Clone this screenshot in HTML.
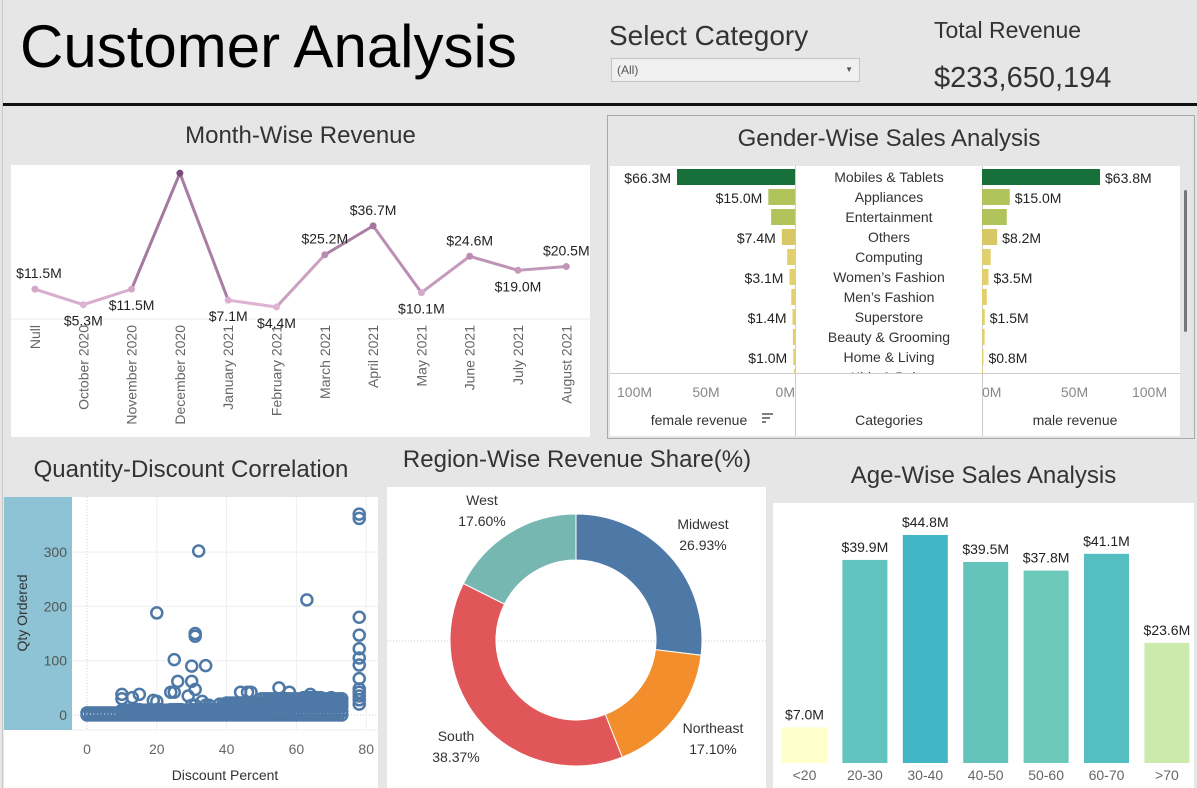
<!DOCTYPE html>
<html><head><meta charset="utf-8">
<style>
body{margin:0;width:1197px;height:788px;background:#e6e6e6;font-family:"Liberation Sans",sans-serif;position:relative;overflow:hidden}
.abs{position:absolute}
svg text{font-family:"Liberation Sans",sans-serif}
</style></head>
<body>
<div class="abs" style="left:2px;top:0;width:1px;height:788px;background:#c8c8c8"></div>
<div class="abs" style="left:20px;top:12px;font-size:60px;color:#000">Customer Analysis</div>
<div class="abs" style="left:609px;top:20px;font-size:28px;color:#333">Select Category</div>
<div class="abs" style="left:611px;top:58px;width:247px;height:22px;background:#f0f0f0;border:1px solid #c4c4c4;font-size:12px;color:#555;line-height:22px;text-indent:5px">(All)<span style="position:absolute;right:6px;top:0;font-size:8px">▼</span></div>
<div class="abs" style="left:934px;top:17px;font-size:23px;color:#333">Total Revenue</div>
<div class="abs" style="left:934px;top:62px;font-size:29px;color:#333">$233,650,194</div>
<div class="abs" style="left:3px;top:103px;width:1194px;height:3px;background:#111"></div>

<div class="abs" style="left:11px;top:122px;width:579px;text-align:center;font-size:24px;color:#333">Month-Wise Revenue</div>
<svg class="abs" id="month" style="left:11px;top:165px" width="579" height="272"></svg>

<div class="abs" style="left:607px;top:115px;width:586px;height:322px;border:1px solid #a8a8a8;background:#e6e6e6"></div>
<div class="abs" style="left:607px;top:125px;width:564px;text-align:center;font-size:24px;color:#333">Gender-Wise Sales Analysis</div>
<svg class="abs" id="gender" style="left:609px;top:166px" width="584" height="271"></svg>

<div class="abs" style="left:4px;top:456px;width:374px;text-align:center;font-size:24px;color:#333">Quantity-Discount Correlation</div>
<svg class="abs" id="scatter" style="left:4px;top:497px" width="374" height="291"></svg>

<div class="abs" style="left:382px;top:446px;width:390px;text-align:center;font-size:24px;color:#333">Region-Wise Revenue Share(%)</div>
<svg class="abs" id="donut" style="left:387px;top:487px" width="379" height="301"></svg>

<div class="abs" style="left:773px;top:462px;width:421px;text-align:center;font-size:24px;color:#333">Age-Wise Sales Analysis</div>
<svg class="abs" id="age" style="left:773px;top:503px" width="421" height="285"></svg>

<script>
const NS="http://www.w3.org/2000/svg";
function mk(p,t,a,txt){const e=document.createElementNS(NS,t);for(const k in a)e.setAttribute(k,a[k]);if(txt!==undefined)e.textContent=txt;p.appendChild(e);return e;}

// ---------- Month chart ----------
const months=["Null","October 2020","November 2020","December 2020","January 2021","February 2021","March 2021","April 2021","May 2021","June 2021","July 2021","August 2021"];
const monthRevenue=[11.5,5.3,11.5,57.7,7.1,4.4,25.2,36.7,10.1,24.6,19.0,20.5];
const monthLabelAbove=[true,false,false,true,false,false,true,true,false,true,false,true];
{
const s=document.getElementById('month');
mk(s,'rect',{width:579,height:272,fill:'#fff'});
const mx=i=>24+i*48.3, my=v=>153-v*2.51;
mk(s,'line',{x1:0,x2:579,y1:154,y2:154,stroke:'#eee'});
function col(v){const t=Math.min(1,v/57.7);const a=[232,190,220],b=[120,75,120];return `rgb(${a.map((c,j)=>Math.round(c+(b[j]-c)*t)).join(',')})`;}
for(let i=0;i<months.length-1;i++){
 const l=mk(s,'line',{x1:mx(i),y1:my(monthRevenue[i]),x2:mx(i+1),y2:my(monthRevenue[i+1]),stroke:col((monthRevenue[i]+monthRevenue[i+1])/2),'stroke-width':3});
 
 
}
months.forEach((m,i)=>{
 const v=monthRevenue[i];
 const c=mk(s,'circle',{cx:mx(i),cy:my(v),r:3.5,fill:col(v)});
 
 
 const y=monthLabelAbove[i]?my(v)-11:my(v)+21;
 const t=mk(s,'text',{x:mx(i)+(i==0?4:0),y:y,'font-size':14,'text-anchor':'middle',fill:'#222'},'$'+v.toFixed(1)+'M');
 
 
 const xl=mk(s,'text',{transform:`translate(${mx(i)+5},160) rotate(-90)`,'font-size':14,'text-anchor':'end',fill:'#666'},m);
 
 
});
}

// ---------- Gender chart ----------
const categories=["Mobiles & Tablets","Appliances","Entertainment","Others","Computing","Women's Fashion","Men's Fashion","Superstore","Beauty & Grooming","Home & Living","Kids & Baby"];
const femaleRevenue=[66.3,15.0,13.4,7.4,4.4,3.1,2.1,1.4,1.2,1.0,0.6];
const maleRevenue=[63.8,15.0,13.4,8.2,4.7,3.5,2.6,1.5,1.4,0.8,0.5];
const genderAxisTicks=[0,50,100];
{
const s=document.getElementById('gender');
mk(s,'rect',{x:1,y:0,width:570,height:270,fill:'#fff'});
const f0=186, fs=1.78, m0=373, ms=1.85;
mk(s,'line',{x1:186.5,x2:186.5,y1:0,y2:270,stroke:'#ccc'});
mk(s,'line',{x1:373.5,x2:373.5,y1:0,y2:270,stroke:'#ccc'});
mk(s,'line',{x1:1,x2:571,y1:207.5,y2:207.5,stroke:'#ccc'});
function gc(v){return v>50?'#17703a':v>10?'#b1c45c':v>5?'#d8c865':'#e2d06e';}
const g=mk(s,'g',{'clip-path':'url(#gclip)'});
const cp=mk(s,'clipPath',{id:'gclip'});mk(cp,'rect',{x:0,y:0,width:572,height:207});
categories.forEach((c,i)=>{
 const yc=11+i*20;
 const fw=femaleRevenue[i]*fs, mw=maleRevenue[i]*ms;
 const b1=mk(g,'rect',{x:f0-fw,y:yc-8,width:fw,height:16,fill:gc(femaleRevenue[i])});
 
 
 const b2=mk(g,'rect',{x:m0,y:yc-8,width:mw,height:16,fill:gc(maleRevenue[i])});
 
 
 const t=mk(g,'text',{x:280,y:yc+5,'font-size':14,'text-anchor':'middle',fill:'#333'},c.replace("'","’"));
 
 
 if(i%2==1||i==0){
  const a=mk(g,'text',{x:f0-fw-6,y:yc+6,'font-size':14,'text-anchor':'end',fill:'#222'},'$'+femaleRevenue[i].toFixed(1)+'M');
  
  
  const b=mk(g,'text',{x:m0+mw+5,y:yc+6,'font-size':14,fill:'#222'},'$'+maleRevenue[i].toFixed(1)+'M');
  
  
 }
});
genderAxisTicks.forEach(v=>{
 const fx=f0-v*fs, mxx=m0+v*ms;
 const a=mk(s,'text',{x:fx,y:231,'font-size':14,fill:'#888','text-anchor':v==0?'end':(v==100?'start':'middle')},v+'M');
 
 
 const b=mk(s,'text',{x:mxx,y:231,'font-size':14,fill:'#888','text-anchor':v==0?'start':(v==100?'end':'middle')},v+'M');
 
 
});
const h1=mk(s,'text',{x:90,y:259,'font-size':14,'text-anchor':'middle',fill:'#333'},'female revenue');
mk(s,'path',{d:'M153 248h11M153 252h8M153 256h4',stroke:'#555','stroke-width':1.5});
const h2=mk(s,'text',{x:280,y:259,'font-size':14,'text-anchor':'middle',fill:'#333'},'Categories');
const h3=mk(s,'text',{x:466,y:259,'font-size':14,'text-anchor':'middle',fill:'#333'},'male revenue');
mk(s,'rect',{x:572,y:0,width:12,height:271,fill:'#e6e6e6'});
const sb=mk(s,'rect',{x:575,y:24,width:3,height:142,rx:1.5,fill:'#777'});
}

// ---------- Scatter ----------
const outlierDiscount=[10,10,13,15,19,20,20,24,25,25,26,30,29,30,31,31,32,31,34,33,44,46,47,55,58,63,64,70,78,78,78,78,78,78,78,78,78,78,78,78,78];
const outlierQty=[38,30,32,38,27,188,25,42,102,42,62,62,35,90,150,145,302,47,91,25,42,42,42,50,42,212,38,32,370,362,180,147,122,105,92,67,48,42,35,28,20];
const bandDiscount=[0,2,4,6,8,10,12,14,16,18,20,22,24,26,28,30,32,34,36,38,40,42,44,46,48,50,52,54,56,58,60,62,64,66,68,70,72,
 0,2,4,6,8,10,12,14,16,18,20,22,24,26,28,30,32,34,36,38,40,42,44,46,48,50,52,54,56,58,60,62,64,66,68,70,72,
 10,12,14,16,18,20,22,24,26,28,30,32,34,36,38,40,42,44,46,48,50,52,54,56,58,60,62,64,66,68,70,72,
 30,34,38,40,42,44,46,48,50,52,54,56,58,60,62,64,66,68,70,72,
 40,42,44,46,48,50,52,54,56,58,60,62,64,66,68,70,72,
 50,52,54,56,58,60,62,64,66,68,70,72];
const bandQty=[0,0,0,0,0,0,0,0,0,0,0,0,0,0,0,0,0,0,0,0,0,0,0,0,0,0,0,0,0,0,0,0,0,0,0,0,0,
 4,4,4,4,4,5,5,5,5,5,5,5,5,5,5,5,5,5,5,6,6,6,6,6,6,6,6,6,6,6,7,7,7,7,7,7,7,
 9,9,10,9,9,10,9,10,10,9,10,10,10,10,12,12,12,12,14,14,14,14,15,15,15,16,16,16,16,16,16,16,
 18,18,20,22,22,22,22,22,22,24,24,24,24,25,25,25,26,26,25,24,
 18,18,18,18,18,18,19,19,19,19,20,20,20,20,20,20,20,
 30,30,30,30,30,30,32,32,32,30,30,30];
const scatterXTicks=[0,20,40,60,80];
const scatterYTicks=[0,100,200,300];
{
const s=document.getElementById('scatter');
mk(s,'rect',{width:374,height:291,fill:'#fff'});
mk(s,'rect',{x:0,y:0,width:68,height:233,fill:'#8dc3d4'});
const sx=v=>83+v*3.49, sy=v=>218-v*0.543;
scatterYTicks.forEach(v=>{
 mk(s,'line',{x1:68,x2:374,y1:sy(v),y2:sy(v),stroke:v==0?'#ccc':'#eee','stroke-dasharray':v==0?'1,2':''});
 const t=mk(s,'text',{x:63,y:sy(v)+5,'font-size':14,'text-anchor':'end',fill:'#555'},v);
 
});
mk(s,'line',{x1:68,x2:374,y1:233,y2:233,stroke:'#eee'});
scatterXTicks.forEach(v=>{
 mk(s,'line',{x1:sx(v),x2:sx(v),y1:0,y2:233,stroke:v==0?'#ccc':'#eee','stroke-dasharray':v==0?'1,2':''});
 const t=mk(s,'text',{x:sx(v),y:257,'font-size':14,'text-anchor':'middle',fill:'#666'},v);
 
});
const yt=mk(s,'text',{transform:'translate(23,116) rotate(-90)','font-size':14,'text-anchor':'middle',fill:'#333'},'Qty Ordered');

const xt=mk(s,'text',{x:221,y:283,'font-size':14,'text-anchor':'middle',fill:'#333'},'Discount Percent');

function pt(d,q){const c=mk(s,'circle',{cx:sx(d),cy:sy(q),r:5.5,fill:'none',stroke:'#4e79a7','stroke-width':2.5});
 
 }
bandDiscount.forEach((d,i)=>{pt(d,bandQty[i]);pt(d+1,bandQty[i]);});
outlierDiscount.forEach((d,i)=>pt(d,outlierQty[i]));
}

// ---------- Donut ----------
const regions=["Midwest","Northeast","South","West"];
const regionShare=[26.93,17.10,38.37,17.60];
const regionColors=["#4e79a7","#f28e2b","#e15759","#76b7b2"];
{
const s=document.getElementById('donut');
mk(s,'rect',{width:379,height:301,fill:'#fff'});
mk(s,'line',{x1:0,x2:379,y1:154,y2:154,stroke:'#ccc','stroke-dasharray':'1,2'});
const cx=189,cy=153,R=126,r=80;
const labelPos=[[316,42],[326,246],[69,254],[95,18]];
const tot=regionShare.reduce((a,b)=>a+b,0);let a0=0;
regionShare.forEach((v,i)=>{
 const a1=a0+v/tot*2*Math.PI;
 const p=(a,rr)=>[cx+rr*Math.sin(a),cy-rr*Math.cos(a)];
 const [x1,y1]=p(a0,R),[x2,y2]=p(a1,R),[x3,y3]=p(a1,r),[x4,y4]=p(a0,r);
 const lg=(a1-a0)>Math.PI?1:0;
 const e=mk(s,'path',{d:`M${x1} ${y1}A${R} ${R} 0 ${lg} 1 ${x2} ${y2}L${x3} ${y3}A${r} ${r} 0 ${lg} 0 ${x4} ${y4}Z`,fill:regionColors[i],stroke:'#fff','stroke-width':1});
 
 
 const t=mk(s,'text',{x:labelPos[i][0],y:labelPos[i][1],'font-size':14,'text-anchor':'middle',fill:'#333'});
 mk(t,'tspan',{x:labelPos[i][0],dy:0},regions[i]);
 mk(t,'tspan',{x:labelPos[i][0],dy:21},v.toFixed(2)+'%');
 
 
 a0=a1;
});
}

// ---------- Age chart ----------
const ageGroups=["<20","20-30","30-40","40-50","50-60","60-70",">70"];
const ageRevenue=[7.0,39.9,44.8,39.5,37.8,41.1,23.6];
const ageColors=["#ffffcc","#62c2bd","#41b6c4","#64c4bc","#6cc8b9","#55bec0","#cdeaad"];
{
const s=document.getElementById('age');
mk(s,'rect',{width:421,height:285,fill:'#fff'});
const base=260, sc=5.09;
ageGroups.forEach((g,i)=>{
 const x=9+i*60.4, h=ageRevenue[i]*sc;
 const b=mk(s,'rect',{x:x,y:base-h,width:45,height:h,fill:ageColors[i]});
 
 
 const t=mk(s,'text',{x:x+22.5,y:base-h-8,'font-size':14,'text-anchor':'middle',fill:'#222'},'$'+ageRevenue[i].toFixed(1)+'M');
 
 
 const l=mk(s,'text',{x:x+22.5,y:277,'font-size':14,'text-anchor':'middle',fill:'#666'},g);
 
 
});
}
</script>
</body></html>
